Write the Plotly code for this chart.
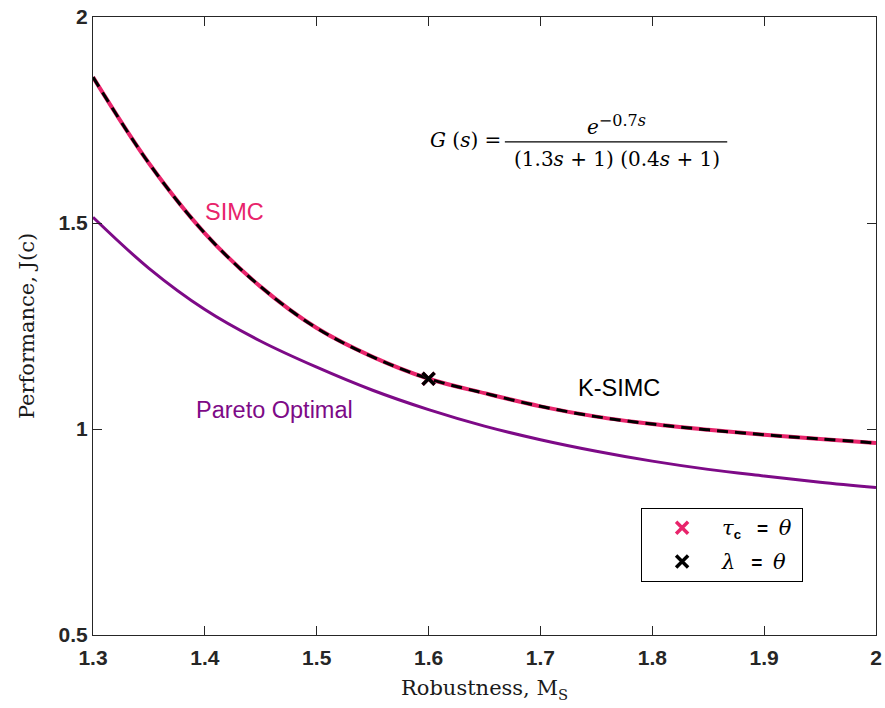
import plotly.graph_objects as go

# Data
ms = [1.30, 1.35, 1.40, 1.45, 1.50, 1.55, 1.60, 1.65, 1.70, 1.75, 1.80, 1.85, 1.90, 1.95, 2.00]
j_simc = [1.854, 1.645, 1.475, 1.345, 1.245, 1.175, 1.122, 1.087, 1.055, 1.030, 1.012, 0.998, 0.986, 0.976, 0.966]
j_ksimc = [1.854, 1.645, 1.475, 1.345, 1.245, 1.175, 1.122, 1.087, 1.055, 1.030, 1.012, 0.998, 0.986, 0.976, 0.966]
j_pareto = [1.514, 1.390, 1.290, 1.213, 1.150, 1.094, 1.047, 1.007, 0.974, 0.946, 0.922, 0.902, 0.886, 0.871, 0.858]
tau_pt = ([1.6], [1.122])
lam_pt = ([1.6], [1.122])
x_ticks = [1.3, 1.4, 1.5, 1.6, 1.7, 1.8, 1.9, 2.0]
x_ticktext = ["1.3", "1.4", "1.5", "1.6", "1.7", "1.8", "1.9", "2"]
y_ticks = [0.5, 1.0, 1.5, 2.0]
y_ticktext = ["0.5", "1", "1.5", "2"]

PINK = "#E8246B"
PURPLE = "#7D0A87"
SERIF = "DejaVu Serif, Liberation Serif, serif"
SANS = "Liberation Sans, Arial, sans-serif"

fig = go.Figure()
fig.add_trace(go.Scatter(x=ms, y=j_pareto, mode="lines", line=dict(color=PURPLE, width=3, shape="spline"),
                         showlegend=False))
fig.add_trace(go.Scatter(x=ms, y=j_simc, mode="lines", line=dict(color=PINK, width=4, shape="spline"),
                         showlegend=False))
fig.add_trace(go.Scatter(x=ms, y=j_ksimc, mode="lines", line=dict(color="black", width=3, dash="11px,7px", shape="spline"),
                         showlegend=False))

sp = f"font-family:{SERIF};font-size:21px"
fig.add_trace(go.Scatter(x=tau_pt[0], y=tau_pt[1], mode="markers",
                         marker=dict(symbol="x-thin-open", size=12, color=PINK, line=dict(color=PINK, width=3.5)),
                         name=f"<span style='{sp}'><i>τ</i></span><sub><b>c</b></sub>   <b>=</b>  <span style='{sp}'><i>θ</i></span> ",
                         legendgroup="a"))
fig.add_trace(go.Scatter(x=lam_pt[0], y=lam_pt[1], mode="markers",
                         marker=dict(symbol="x-thin-open", size=12, color="black", line=dict(color="black", width=3.5)),
                         name=f"<span style='{sp}'><i>λ</i></span>   <b>=</b>  <span style='{sp}'><i>θ</i></span>",
                         legendgroup="b"))

axis_common = dict(showline=True, linecolor="#262626", linewidth=1, mirror="ticks", ticks="inside",
                   ticklen=9, tickcolor="#262626", showgrid=False, zeroline=False, automargin=False,
                   tickfont=dict(family=SANS, size=21, color="#262626", weight="bold"))

fig.update_xaxes(range=[1.3, 2.0], tickvals=x_ticks, ticktext=x_ticktext, ticklabelstandoff=4,
                 title=dict(text="Robustness, M<sub>S</sub>", font=dict(family=SERIF, size=21, color="#1a1a1a"), standoff=12),
                 **axis_common)
fig.update_yaxes(range=[0.5, 2.0], tickvals=y_ticks, ticktext=y_ticktext,
                 title=dict(text="Performance, J(c)", font=dict(family=SERIF, size=21, color="#1a1a1a"), standoff=18),
                 **axis_common)

def ann(text, x, y, size, color, family, xanchor="center"):
    fig.add_annotation(text=text, x=x, y=y, xref="paper", yref="paper", showarrow=False,
                       font=dict(family=family, size=size, color=color), xanchor=xanchor, yanchor="middle")

ann("SIMC", 0.181, 0.684, 23.5, PINK, SANS)
ann("K-SIMC", 0.672, 0.400, 23.5, "black", SANS)
ann("Pareto Optimal", 0.232, 0.364, 23.5, PURPLE, SANS)

# Equation
ann("<i>G</i> (<i>s</i>) =", 0.476, 0.801, 20, "black", SERIF)
ann("<i>e</i><sup><span style='font-size:16px'>−0.7<i>s</i></span></sup>", 0.669, 0.826, 20, "black", SERIF)
ann("(1.3<i>s</i> + 1) (0.4<i>s</i> + 1)", 0.669, 0.770, 20, "black", SERIF)
fig.add_shape(type="line", xref="paper", yref="paper", x0=0.526, x1=0.810, y0=0.798, y1=0.798,
              line=dict(color="black", width=1.2))

fig.update_layout(
    width=885, height=708,
    margin=dict(l=93, r=9, t=17, b=73),
    plot_bgcolor="white", paper_bgcolor="white",
    legend=dict(x=0.700, y=0.2055, xanchor="left", yanchor="top", bgcolor="white",
                bordercolor="black", borderwidth=1, font=dict(family=SANS, size=19, color="black"),
                tracegroupgap=6, traceorder="grouped", itemwidth=70),
)

fig.write_html("out.html")
